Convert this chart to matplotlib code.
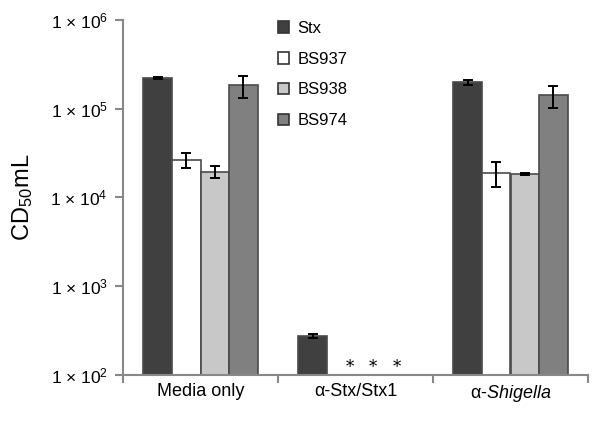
import numpy as np
import matplotlib
matplotlib.use("Agg")
import matplotlib.pyplot as plt
from matplotlib.patches import Patch

plt.rcParams['font.family'] = ['Liberation Sans', 'DejaVu Sans']
plt.rcParams['mathtext.fontset'] = 'custom'
plt.rcParams['mathtext.rm'] = 'Liberation Sans'
plt.rcParams['mathtext.it'] = 'Liberation Sans:italic'

# data
groups = ["Media only", "α-Stx/Stx1", "α-$\\it{Shigella}$"]
series = ["Stx", "BS937", "BS938", "BS974"]
stx = [2.2e5, 274, 1.98e5]
stx_err = [6e3, 12, 1.5e4]
bs937 = [2.65e4, np.nan, 1.9e4]
bs937_err = [5e3, np.nan, 6e3]
bs938 = [1.95e4, np.nan, 1.85e4]
bs938_err = [3e3, np.nan, 500]
bs974 = [1.83e5, np.nan, 1.42e5]
bs974_err = [5e4, np.nan, 4e4]
below_limit = [(1, 1), (1, 2), (1, 3)]  # (group, series) marked with *

values = [stx, bs937, bs938, bs974]
errors = [stx_err, bs937_err, bs938_err, bs974_err]
colors = ['#404040', '#ffffff', '#c8c8c8', '#808080']
edge = '#4a4a4a'
axis_gray = '#888888'

fig = plt.figure(figsize=(6, 4.33), dpi=100)
ax = fig.add_axes([0.205, 0.134, 0.775, 0.82])

x = np.arange(len(groups))
w = 0.184
for i, (vals, errs, c) in enumerate(zip(values, errors, colors)):
    pos = x + (i - 1.5) * w
    v = np.array(vals, dtype=float)
    e = np.array(errs, dtype=float)
    ok = ~np.isnan(v)
    ax.bar(pos[ok], v[ok], width=w, color=c, edgecolor=edge, linewidth=1.2,
           bottom=0, zorder=2)
    ax.errorbar(pos[ok], v[ok], yerr=e[ok], fmt='none', ecolor='black',
                elinewidth=1.4, capsize=3.6, capthick=1.4, zorder=3)

# asterisks sit a little tighter than the bar slots
for g, s in below_limit:
    ax.text(x[g] + 0.113 + (s - 2) * 0.151, 122, '*', ha='center', va='center',
            fontsize=12, family='DejaVu Serif')

ax.set_yscale('log')
ax.set_ylim(1e2, 1e6)
ax.set_xlim(-0.5, 2.5)

yt = [1e2, 1e3, 1e4, 1e5, 1e6]
ax.set_yticks(yt)
ax.set_yticklabels(['1 × 10$^{%d}$' % k for k in range(2, 7)], fontsize=12.5)
ax.yaxis.set_minor_locator(matplotlib.ticker.NullLocator())
ax.set_xticks([-0.5, 0.5, 1.5, 2.5])
ax.set_xticklabels([])
ax.set_xticks(x, minor=True)
ax.set_xticklabels(groups, minor=True, fontsize=13)
ax.tick_params(axis='x', which='minor', length=0, pad=6)
ax.tick_params(axis='x', which='major', length=6, color=axis_gray, width=1.5, direction='out')
ax.tick_params(axis='y', which='major', length=6, color=axis_gray, width=1.5, direction='out', pad=5)

for sp in ['top', 'right']:
    ax.spines[sp].set_visible(False)
for sp in ['left', 'bottom']:
    ax.spines[sp].set_color(axis_gray)
    ax.spines[sp].set_linewidth(1.5)

ax.set_ylabel('CD$_{50}$mL', fontsize=17)
ax.yaxis.set_label_coords(-0.19, 0.5)

handles = [Patch(facecolor=c, edgecolor='#333333', linewidth=1.2) for c in colors]
ax.legend(handles, series, loc='upper left', bbox_to_anchor=(0.3, 1.04),
          frameon=False, fontsize=12, handlelength=0.7, handleheight=0.7,
          handletextpad=0.5, labelspacing=0.95)

fig.savefig('out.png', dpi=100)
